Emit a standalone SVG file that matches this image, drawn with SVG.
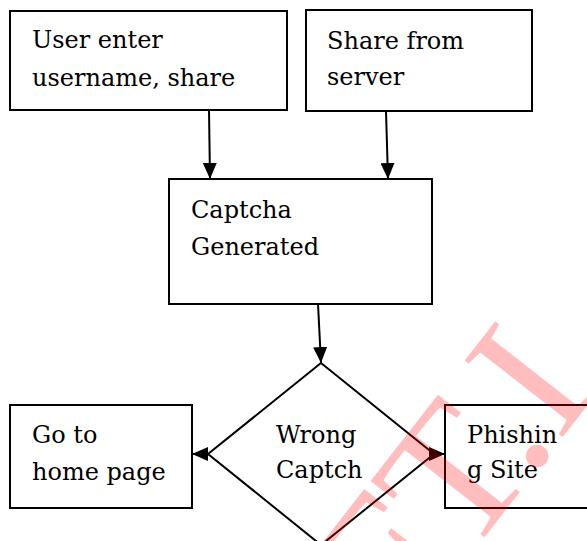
<svg xmlns="http://www.w3.org/2000/svg" width="587" height="541" viewBox="0 0 587 541">
<defs>
<style>
.box{fill:#fff;stroke:#000;stroke-width:2}
.t{font-family:"DejaVu Serif","Liberation Serif",serif;font-size:24px;fill:#000}
.ln{stroke:#000;stroke-width:2;fill:none}
.wm{font-family:"Liberation Serif",serif;font-size:190px;fill:#ff0000;fill-opacity:0.26}
</style>
<marker id="ah" viewBox="0 0 16 14" refX="16" refY="7" markerWidth="16" markerHeight="14" markerUnits="userSpaceOnUse" orient="auto">
<path d="M0,0 L16,7 L0,14 Z" fill="#000"/>
</marker>
</defs>
<rect width="587" height="541" fill="#fff"/>
<g id="n1"><rect class="box" x="10" y="11" width="277" height="99"/><text class="t" x="32" y="48">User enter</text><text class="t" x="32" y="86">username, share</text></g>
<g id="n2"><rect class="box" x="306" y="10" width="226" height="101"/><text class="t" x="327" y="49">Share from</text><text class="t" x="327" y="85">server</text></g>
<g id="n3"><rect class="box" x="169" y="179" width="263" height="125"/><text class="t" x="191" y="218">Captcha</text><text class="t" x="191" y="255">Generated</text></g>
<g id="n4"><polygon class="box" points="321,363 434,454 321,545 208,454"/><text class="t" x="276" y="443">Wrong</text><text class="t" x="276" y="478">Captch</text></g>
<g id="n5"><rect class="box" x="10" y="405" width="182" height="103"/><text class="t" x="32" y="443">Go to</text><text class="t" x="32" y="480">home page</text></g>
<g id="n6"><rect class="box" x="445" y="405" width="150" height="103"/><text class="t" x="467" y="443">Phishin</text><text class="t" x="467" y="478">g Site</text></g>
<g id="edges">
<line class="ln" x1="209" y1="110" x2="210" y2="179" marker-end="url(#ah)"/>
<line class="ln" x1="386" y1="111" x2="388" y2="179" marker-end="url(#ah)"/>
<line class="ln" x1="318" y1="304" x2="321" y2="363" marker-end="url(#ah)"/>
<line class="ln" x1="208" y1="454" x2="192" y2="454" marker-end="url(#ah)"/>
<line class="ln" x1="434" y1="454" x2="445" y2="454" marker-end="url(#ah)"/>
</g>
<text class="wm" transform="translate(330,735) rotate(-52)">EFT.I</text>
</svg>
